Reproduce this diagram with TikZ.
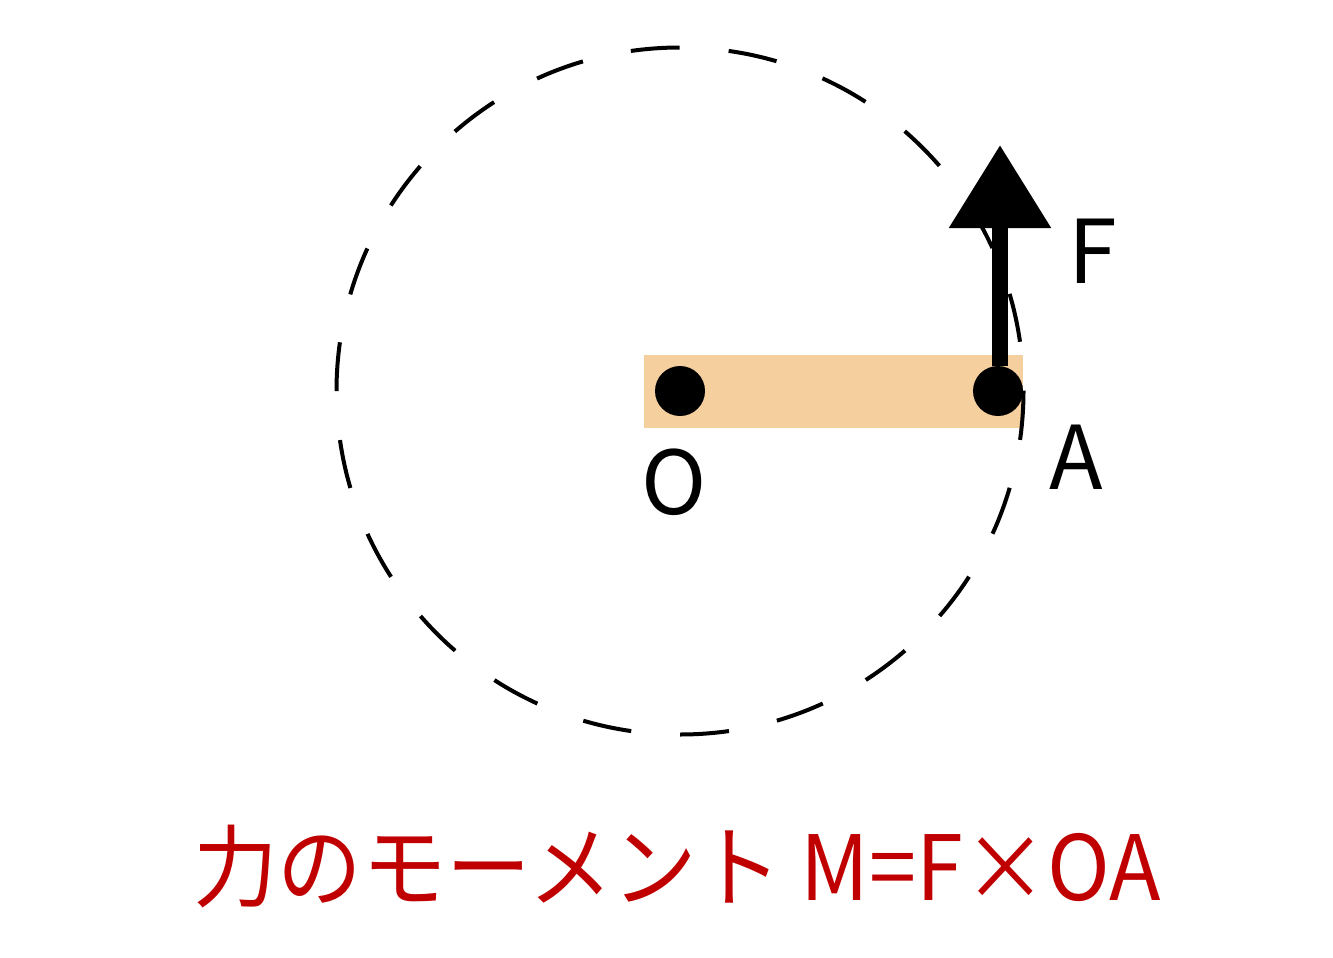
\documentclass[tikz,border=0pt]{standalone}
\usepackage{fontspec}
\setmainfont{Noto Sans CJK JP}
\usetikzlibrary{arrows.meta,positioning}
\definecolor{barorange}{RGB}{246,207,158}
\definecolor{momentred}{RGB}{192,0,0}

\begin{document}
\begin{tikzpicture}[x=1pt,y=-1pt,
  pivot/.style={circle,fill=black,inner sep=0pt,minimum size=50pt},
  pointname/.style={inner sep=0pt,font=\fontsize{88}{88}\selectfont}]
\useasboundingbox (0,0) rectangle (1333,958);

\fill[barorange] (644,355) rectangle (1023,428);
\draw[line width=4pt,dash pattern=on 49.05pt off 49.05pt] (680,391) circle[radius=343.5];

\node[pivot] (O) at (680,391) {};
\node[pivot] (A) at (998,391) {};
\coordinate (Ftip) at (1000,145);
\draw[line width=16pt,-{Triangle[width=98pt,length=83pt]}] (A.north -| Ftip) -- (Ftip);

\node[pointname] (Olabel) at (674,482) {O};
\node[pointname] (Alabel) at (1076,457) {A};
\node[pointname] (Flabel) at (1093,251) {F};

\node[inner sep=0pt,text=momentred,xscale=0.94,font=\fontsize{90}{90}\selectfont] (moment) at (677,867) {力のモーメント M=F×OA};
\end{tikzpicture}
\end{document}
